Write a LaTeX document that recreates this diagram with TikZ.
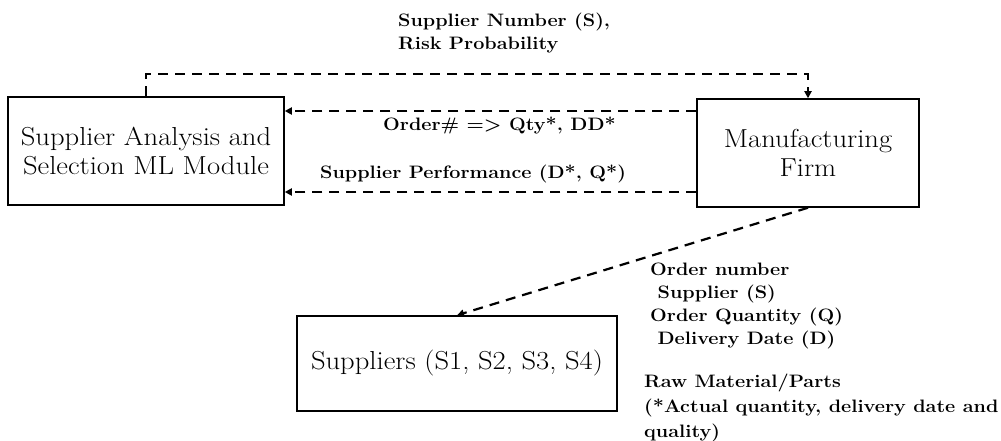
\documentclass[tikz,border=0pt]{standalone}
\usepackage{fontspec}
\setmainfont{Latin Modern Roman}[FakeStretch=1.1]
\usetikzlibrary{arrows.meta, positioning}
\begin{document}
\begin{tikzpicture}[x=1pt, y=-1pt,
    block/.style={
        rectangle, draw, line width=1.5pt, inner sep=0pt,
        font=\fontsize{26}{29}\selectfont, align=center
    },
    lbl/.style={
        anchor=north west, inner sep=0pt, align=left,
        font=\bfseries\fontsize{18}{23}\selectfont
    },
    arr/.style={-{Triangle[length=7pt, width=7pt]}, line width=2.2pt, dash pattern=on 10pt off 7pt},
]
\useasboundingbox (0,0) rectangle (1001,441);

% Boxes
\node[block, minimum width=276pt, minimum height=108pt] (ml) at (146,151) {Supplier Analysis and\\Selection ML Module};
\node[block, minimum width=222pt, minimum height=108pt] (firm) at (808,153) {Manufacturing\\Firm};
\node[block, minimum width=320pt, minimum height=95pt] (sup) at (457,363.5) {Suppliers (S1, S2, S3, S4)};

% Labels
\node[lbl] (riskinfo) at (398,13) {Supplier Number (S),\\Risk Probability};
\node[lbl] (orderinfo) at (383,117) {Order\# => Qty*, DD*};
\node[lbl] (perfinfo) at (320,165) {Supplier Performance (D*, Q*)};
\node[lbl] (orderlist) at (650,263) {Order number\\\ Supplier (S)\\Order Quantity (Q)\\\ Delivery Date (D)};
\node[lbl, font=\bfseries\fontsize{18}{25}\selectfont] (rawinfo) at (644,374) {Raw Material/Parts\\(*Actual quantity, delivery date and\\quality)};

% Arrows
\coordinate (o1) at ([yshift=42pt]firm.west);
\coordinate (o2) at ([yshift=-39pt]firm.west);
\draw[arr] (ml.north) -- ++(0,-22) -| (firm.north);
\draw[arr] (o1) -- (o1 -| ml.east);
\draw[arr] (o2) -- (o2 -| ml.east);
\draw[arr] (firm.south) -- (sup.north);

\end{tikzpicture}
\end{document}
